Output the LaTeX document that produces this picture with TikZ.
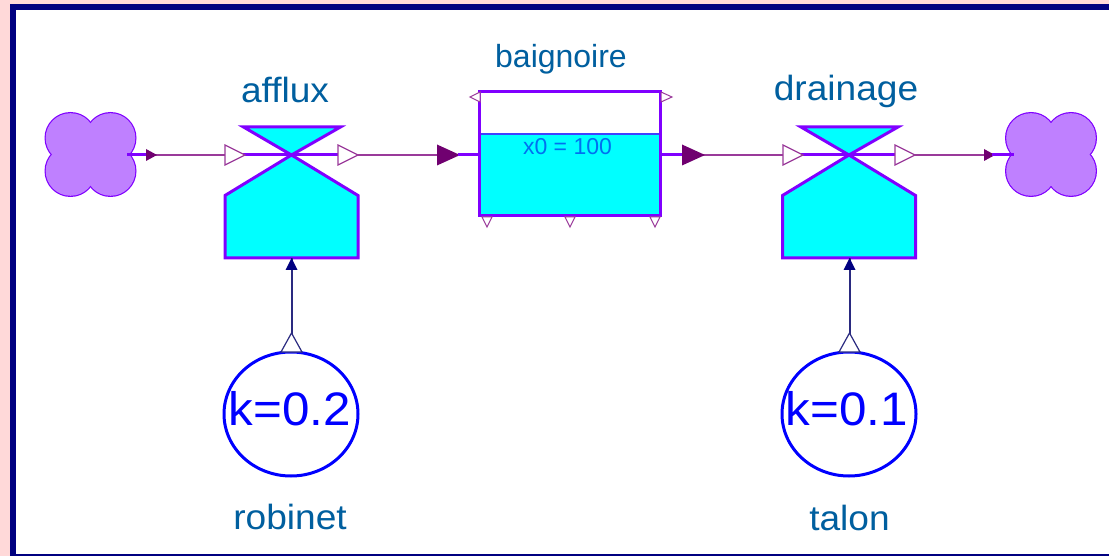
\documentclass[tikz,border=0pt]{standalone}
\usepackage{fontspec}
\setmainfont{Liberation Sans}
\usetikzlibrary{shapes.geometric}
\definecolor{bgpink}{HTML}{FFD9D9}
\definecolor{frame}{HTML}{000080}
\definecolor{violetline}{HTML}{8000FF}
\definecolor{flowthin}{HTML}{9A3A9A}
\definecolor{flowhead}{HTML}{700070}
\definecolor{cloudfill}{HTML}{BF80FF}
\definecolor{labelblue}{HTML}{005F9F}
\definecolor{infonavy}{HTML}{2A2A80}
\definecolor{stocktext}{HTML}{0070F0}
\definecolor{aqua}{HTML}{00FFFF}
\definecolor{levelline}{HTML}{4040FF}
\definecolor{pureblue}{HTML}{0000FF}
\tikzset{
  x=1pt,y=-1pt,
  thinflow/.style={draw=flowthin,line width=1.6pt},
  thickflow/.style={draw=violetline,line width=3pt},
  openhead/.style={draw=flowthin,fill=white,line width=1.2pt,line join=miter},
  solidhead/.style={fill=flowhead,draw=none},
  valvebody/.style={draw=violetline,fill=aqua,line width=3pt,line join=miter},
  lbl/.style={text=labelblue,inner sep=0pt,font=\fontsize{35}{35}\selectfont,xscale=1.06,transform shape},
  param/.style={text=pureblue,inner sep=0pt,font=\fontsize{47}{47}\selectfont,xscale=1.05,transform shape},
  infocircle/.style={draw=pureblue,fill=white,line width=3pt},
  infoline/.style={draw=infonavy,line width=2pt},
  anchorbox/.style={draw=none,fill=none,inner sep=0pt,minimum width=92pt,minimum height=85pt},
  inforing/.style={ellipse,inner sep=0pt,minimum width=134pt,minimum height=124pt,infocircle}
}
\newcommand{\drawcloud}[2]{%
  \foreach \sx in {-1,1}\foreach \sy in {-1,1}
    \fill[violetline] (#1+\sx*20,#2+\sy*16.5) circle[radius=26];
  \foreach \sx in {-1,1}\foreach \sy in {-1,1}
    \fill[cloudfill] (#1+\sx*20,#2+\sy*16.5) circle[radius=24.8];
  \fill[cloudfill] (#1-6,#2-6) rectangle (#1+6,#2+6);
}
\newcommand{\drawvalve}[1]{%
  \path[valvebody] (#1-48,127) -- (#1+49,127) -- (#1,155) -- (#1+66.5,195.5) -- (#1+66.5,258) -- (#1-66.5,258) -- (#1-66.5,195.5) -- (#1,155) -- cycle;
}
\newcommand{\openright}[1]{%
  \path[openhead] (#1,145) -- (#1+20,155) -- (#1,165) -- cycle;
}
\newcommand{\solidright}[3]{% x, half height, length
  \path[solidhead] (#1,155-#2) -- (#1+#3,155) -- (#1,155+#2) -- cycle;
}
\begin{document}
\begin{tikzpicture}
\useasboundingbox (0,0) rectangle (1109,556);
\fill[bgpink] (0,0) rectangle (1109,556);
\fill[frame] (10,4) rectangle (1109,556);
\fill[white] (16,10) rectangle (1109,554);

% named anchors
\node[anchorbox] (cloudL) at (90.5,154.5) {};
\node[anchorbox] (cloudR) at (1051,154.5) {};
\coordinate (valveA) at (291.5,155);
\coordinate (valveB) at (849,155);
\coordinate (stockW) at (480,155);
\coordinate (stockE) at (660,155);
\coordinate (cloudLout) at (127,155);
\coordinate (cloudRin) at (1014,155);
\coordinate (tapA) at (291.5,258);
\coordinate (tapB) at (849.5,258);

\drawcloud{90.5}{154.5}
\drawcloud{1051}{154.5}
\drawvalve{291.5}
\drawvalve{849}

% stock
\node[draw=none,inner sep=0pt,minimum width=180pt,minimum height=123pt] (stock) at (570,153.5) {};
\fill[white] (480,92) rectangle (660,134);
\fill[aqua] (480,134) rectangle (660,215);
\draw[levelline,line width=1.4pt] (480,134) -- (660,134);
\draw[violetline,line width=3pt] (stock.south west) rectangle (stock.north east);
\node[text=stocktext,inner sep=0pt,font=\fontsize{23}{23}\selectfont] (initval) at (567.5,147) {x0 = 100};

% small stock marks
\path[openhead,line width=1pt] (480,92) -- (470,97) -- (480,102) -- cycle;
\path[openhead,line width=1pt] (661,92) -- (672,97) -- (661,102) -- cycle;
\path[openhead,line width=1pt] (482,217) -- (487,227) -- (492,217) -- cycle;
\path[openhead,line width=1pt] (565,217) -- (570,227) -- (575,217) -- cycle;
\path[openhead,line width=1pt] (650,217) -- (655,227) -- (660,217) -- cycle;

% flows
\draw[thickflow] (cloudLout) -- (150,155);
\draw[thinflow] (150,155) -- (225,155);
\solidright{146}{6}{11}
\draw[thickflow] (240,155) -- (valveA) -- (342,155);
\openright{225}
\openright{338}
\draw[thinflow] (358,155) -- (440,155);
\solidright{437}{10.5}{23}
\draw[thickflow] (458,155) -- (stockW);

\draw[thickflow] (stockE) -- (684,155);
\draw[thinflow] (700,155) -- (785,155);
\solidright{682}{10.5}{23}
\draw[thickflow] (798,155) -- (valveB) -- (899,155);
\openright{783}
\openright{895}
\draw[thinflow] (915,155) -- (986,155);
\solidright{984}{6}{11}
\draw[thickflow] (992,155) -- (cloudRin);

% information links
\node[inforing] (kA) at (291,414) {};
\node[inforing] (kB) at (849,414) {};
\draw[infoline] (tapA |- kA.north) -- (tapA);
\draw[infoline] (tapB |- kB.north) -- (tapB);
\path[draw=infonavy,fill=white,line width=1.2pt] (291.5,333) -- (302,352) -- (281,352) -- cycle;
\path[draw=infonavy,fill=white,line width=1.2pt] (849.5,333) -- (860,352) -- (839,352) -- cycle;
\fill[frame] (tapA) -- +(6,12) -- +(-6,12) -- cycle;
\fill[frame] (tapB) -- +(6,12) -- +(-6,12) -- cycle;
\node[param] (kAtxt) at (290,409) {k=0.2};
\node[param] (kBtxt) at (847,409) {k=0.1};

% labels
\node[lbl] (afflux) at (285,90) {afflux};
\node[lbl,font=\fontsize{32}{32}\selectfont,xscale=1/1.06] (baign) at (561,59) {baignoire};
\node[lbl] (drain) at (846,91) {drainage};
\node[lbl] (rob) at (290,517) {robinet};
\node[lbl] (tal) at (849.5,518) {talon};
\end{tikzpicture}
\end{document}
